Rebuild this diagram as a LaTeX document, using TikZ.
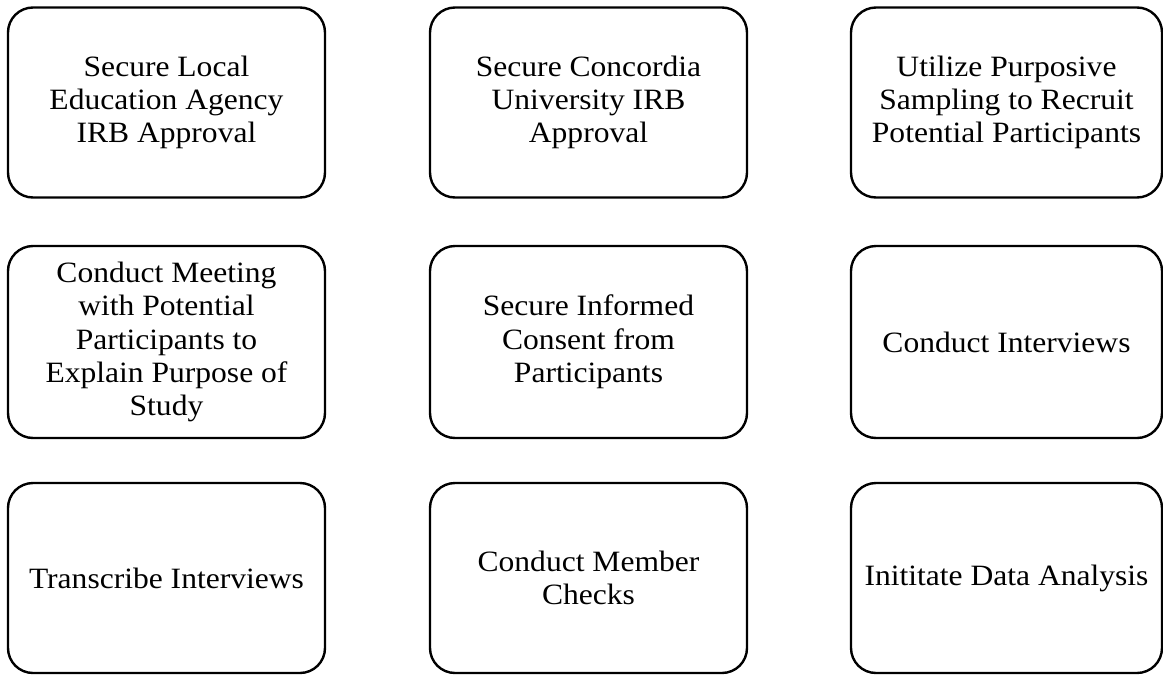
\documentclass[tikz,border=0pt]{standalone}
\usepackage{fontspec}
\setmainfont{Liberation Serif}[FakeStretch=1.07]
\begin{document}
\begin{tikzpicture}[x=1pt, y=-1pt]
\tikzset{
  procbox/.style={draw, line width=2.4pt, rounded corners=25pt, minimum width=317pt,
    minimum height=190pt, align=center, inner sep=0pt,
    font=\fontsize{29.5}{33.3}\selectfont}
}
\useasboundingbox (0,0) rectangle (1163,675);

% box centres
\coordinate (c11) at (166.5,102.5);
\coordinate (c12) at (588.5,102.5);
\coordinate (c13) at (1006.5,102.5);
\coordinate (c21) at (166.5,342);
\coordinate (c22) at (588.5,342);
\coordinate (c23) at (1006.5,342);
\coordinate (c31) at (166.5,578);
\coordinate (c32) at (588.5,578);
\coordinate (c33) at (1006.5,578);

% first row
\node [procbox] (lea) at (c11) {Secure Local\\Education Agency\\IRB Approval};
\node [procbox] (irb) at (c12) {Secure Concordia\\University IRB\\Approval};
\node [procbox, minimum width=311pt] (recruit) at (c13) {Utilize Purposive\\Sampling to Recruit\\Potential Participants};

% second row
\node [procbox, minimum height=192pt] (meeting) at (c21) {Conduct Meeting\\with Potential\\Participants to\\Explain Purpose of\\Study};
\node [procbox, minimum height=192pt] (consent) at (c22) {Secure Informed\\Consent from\\Participants};
\node [procbox, minimum height=192pt, minimum width=311pt] (interview) at (c23) {Conduct Interviews};

% third row
\node [procbox] (transcribe) at (c31) {Transcribe Interviews};
\node [procbox] (member) at (c32) {Conduct Member\\Checks};
\node [procbox, minimum width=311pt] (analysis) at (c33) {Inititate Data Analysis};

\end{tikzpicture}
\end{document}
